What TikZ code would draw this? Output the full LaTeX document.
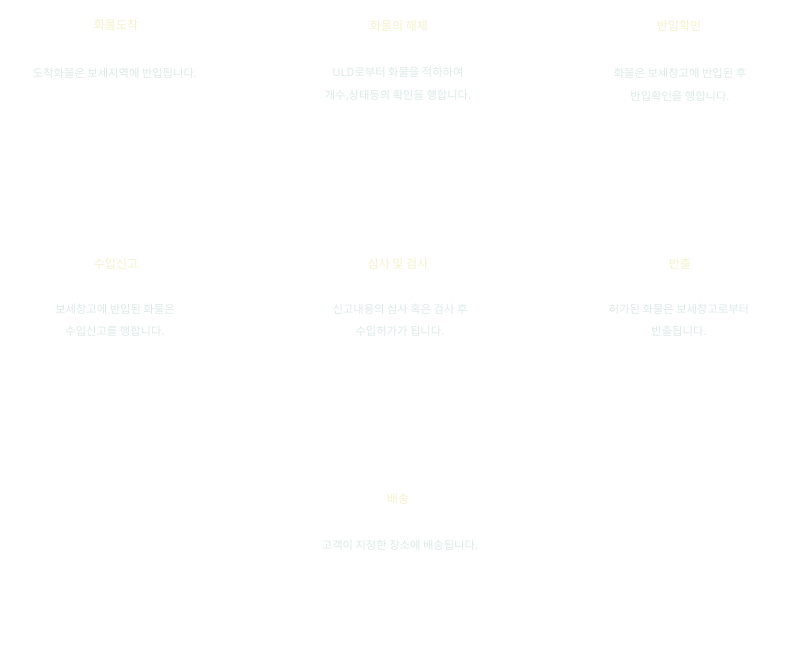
\documentclass[tikz,border=0pt]{standalone}
\usepackage{fontspec}
\newfontfamily\krfont{Noto Sans CJK KR}
\usepackage{xcolor}
\usepackage{tikz}
\usetikzlibrary{positioning}
\definecolor{titlecol}{HTML}{F3F2CC}
\definecolor{desccol}{HTML}{DCEAE8}

\begin{document}
\begin{tikzpicture}[x=1pt, y=1pt, font=\krfont,
  steptitle/.style={text=titlecol, font=\krfont\fontsize{12}{14}\selectfont},
  stepdesc/.style={text=desccol, align=center, font=\krfont\fontsize{11.3}{22.5}\selectfont}]
\useasboundingbox (0,0) rectangle (796,-648);

\node[steptitle] (arrive) at (116,-25) {화물도착};
\node[stepdesc] (arrivetxt) at (115,-73) {도착화물은 보세지역에 반입됩니다.};

\node[steptitle] (breakdown) at (399,-26) {화물의 해체};
\node[stepdesc] (breakdowntxt) at (398,-84.5) {ULD로부터 화물을 적하하여\\ 개수,상태등의 확인을 행합니다.};

\node[steptitle] (inconfirm) at (679,-26) {반입확인};
\node[stepdesc] (inconfirmtxt) at (680,-84.5) {화물은 보세창고에 반입된 후\\ 반입확인을 행합니다.};

\node[steptitle] (declare) at (116,-264) {수입신고};
\node[stepdesc] (declaretxt) at (115,-320) {보세창고에 반입된 화물은\\ 수입신고를 행합니다.};

\node[steptitle] (inspect) at (398,-264) {심사 및 검사};
\node[stepdesc] (inspecttxt) at (400,-320) {신고내용의 심사 혹은 검사 후\\ 수입허가가 됩니다.};

\node[steptitle] (release) at (680,-264) {반출};
\node[stepdesc] (releasetxt) at (679,-320) {허가된 화물은 보세창고로부터\\ 반출됩니다.};

\node[steptitle] (deliver) at (398,-499) {배송};
\node[stepdesc] (delivertxt) at (400,-545) {고객이 지정한 장소에 배송됩니다.};
\end{tikzpicture}
\end{document}
